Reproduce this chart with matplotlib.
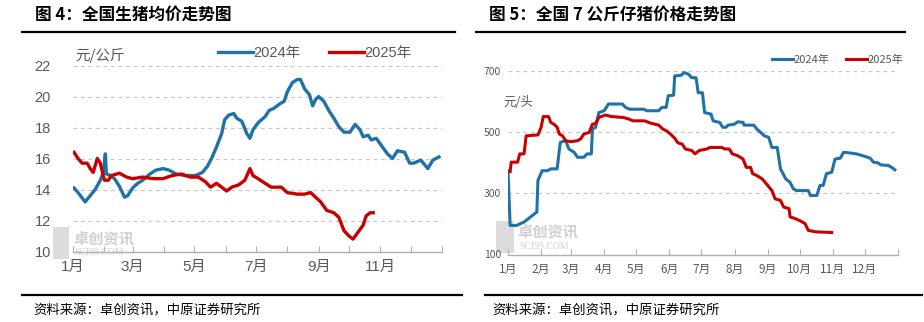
import matplotlib
matplotlib.use("Agg")
import matplotlib.pyplot as plt
from matplotlib.lines import Line2D
import matplotlib.patches as mpatches

plt.rcParams['font.family'] = ['Liberation Sans', 'Noto Sans CJK SC', 'DejaVu Sans']

# ---- data: day of year -> price ----
# left chart: 全国生猪均价 (元/公斤)
hog_days_2024 = [1, 5, 12, 17, 22, 27, 30, 32, 33, 37, 41, 46, 51, 54, 59, 64, 69, 76, 82, 89,
                 95, 102, 111, 121, 128, 133, 137, 142, 147, 150, 154, 159, 162, 167, 172, 175,
                 178, 183, 190, 194, 199, 204, 209, 212, 217, 222, 225, 229, 234, 237, 240, 243,
                 248, 253, 258, 263, 268, 274, 279, 284, 287, 292, 295, 300, 306, 311, 316, 321,
                 328, 333, 337, 344, 351, 356, 362]
hog_2024 = [14.1, 13.8, 13.2, 13.6, 14.0, 14.6, 15.1, 16.3, 15.0, 14.9, 14.7, 14.2, 13.5, 13.6,
            14.1, 14.4, 14.6, 15.0, 15.25, 15.35, 15.25, 15.0, 14.9, 14.9, 15.1, 15.5, 16.0,
            16.75, 17.6, 18.5, 18.8, 18.9, 18.6, 18.4, 17.6, 17.3, 17.85, 18.3, 18.7, 19.1,
            19.25, 19.5, 19.7, 20.3, 20.9, 21.1, 21.1, 20.5, 20.1, 19.4, 19.8, 20.0, 19.7,
            19.1, 18.6, 18.05, 17.7, 17.7, 18.2, 17.85, 17.4, 17.5, 17.2, 17.3, 16.75, 16.3,
            16.0, 16.5, 16.4, 15.7, 15.7, 15.9, 15.35, 15.9, 16.1]
hog_days_2025 = [1, 5, 9, 14, 17, 20, 24, 27, 31, 35, 38, 46, 53, 59, 69, 79, 89, 98, 107, 116,
                 124, 131, 136, 142, 147, 152, 157, 164, 170, 175, 178, 183, 190, 196, 206, 212,
                 222, 229, 235, 240, 245, 251, 258, 263, 268, 273, 277, 282, 287, 290, 294, 297]
hog_2025 = [16.4, 16.0, 15.7, 15.7, 15.35, 15.1, 16.0, 15.7, 14.6, 14.6, 14.9, 15.05, 14.8,
            14.7, 14.8, 14.7, 14.7, 14.9, 15.0, 14.8, 14.8, 14.5, 14.15, 14.4, 14.15, 13.9,
            14.15, 14.3, 14.6, 15.35, 14.9, 14.7, 14.4, 14.15, 14.15, 13.8, 13.7, 13.7, 13.8,
            13.5, 13.2, 12.65, 12.5, 12.2, 11.35, 11.0, 10.8, 11.25, 11.7, 12.3, 12.5, 12.5]

# right chart: 全国7公斤仔猪价格 (元/头)
pig_days_2024 = [0, 2, 8, 11, 15, 19, 23, 27, 28, 32, 37, 40, 46, 48, 49, 54, 57, 62, 65, 71,
                 74, 78, 79, 82, 85, 90, 94, 107, 110, 114, 127, 130, 141, 144, 148, 150, 155,
                 156, 162, 165, 169, 172, 176, 178, 182, 184, 190, 192, 198, 201, 204, 206, 212,
                 215, 220, 221, 230, 233, 240, 244, 247, 252, 255, 260, 264, 267, 270, 281, 283,
                 289, 292, 295, 298, 303, 306, 311, 314, 320, 326, 332, 339, 342, 346, 349, 356,
                 359, 362]
pig_2024 = [374, 195, 195, 200, 206, 217, 228, 239, 342, 374, 374, 380, 380, 440, 467, 472,
            445, 434, 418, 418, 429, 429, 510, 516, 564, 570, 592, 592, 581, 575, 575, 570,
            570, 581, 581, 619, 621, 684, 686, 695, 689, 678, 678, 629, 629, 564, 559, 537,
            532, 516, 516, 523, 526, 534, 532, 523, 523, 510, 488, 483, 450, 450, 380, 347,
            336, 315, 309, 309, 293, 293, 326, 326, 364, 369, 412, 415, 434, 432, 429, 423,
            415, 402, 400, 393, 391, 385, 377]
pig_days_2025 = [2, 3, 9, 11, 15, 17, 28, 31, 33, 38, 40, 43, 46, 48, 51, 54, 59, 65, 68, 71,
                 76, 79, 82, 85, 91, 97, 108, 113, 117, 128, 133, 141, 145, 148, 152, 156, 159,
                 163, 166, 172, 175, 179, 186, 189, 200, 203, 207, 210, 215, 220, 223, 227, 229,
                 233, 238, 243, 247, 250, 255, 258, 263, 264, 269, 274, 278, 281, 288, 303]
pig_2025 = [371, 402, 402, 429, 429, 488, 491, 516, 551, 551, 532, 526, 516, 494, 488, 472,
            469, 472, 478, 494, 499, 526, 528, 548, 556, 551, 548, 543, 537, 537, 530, 523,
            510, 505, 494, 480, 465, 461, 445, 440, 429, 440, 445, 450, 450, 445, 445, 429,
            423, 412, 385, 385, 364, 358, 347, 326, 309, 282, 277, 255, 250, 223, 217, 209,
            201, 179, 174, 172]

month_starts = [0, 31, 59, 90, 120, 151, 181, 212, 243, 273, 304, 334, 365]
month_names = ['%d月' % m for m in range(1, 13)]

BLUE = '#1F72A8'
RED = '#C80000'
GRAY = '#595959'
W, H = 924, 322

fig = plt.figure(figsize=(9.24, 3.22), dpi=100)


def px_box(x0, x1, ytop, ybot):
    return [x0 / W, 1 - ybot / H, (x1 - x0) / W, (ybot - ytop) / H]


def style_axes(ax, ymin, ymax, yticks, tick_fs, ypad):
    ax.set_xlim(0, 365)
    ax.set_ylim(ymin, ymax)
    for s in ['top', 'right', 'left']:
        ax.spines[s].set_visible(False)
    ax.spines['bottom'].set_color('#b0b0b0')
    ax.spines['bottom'].set_linewidth(1.0)
    ax.set_yticks(yticks)
    for y in yticks[1:]:
        ax.axhline(y, color='#c8c8c8', lw=0.9, ls=(0, (3, 3)), zorder=0)
    ax.tick_params(axis='y', length=0, pad=ypad, labelsize=tick_fs, labelcolor=GRAY)
    ax.tick_params(axis='x', direction='in', length=4, color='#b0b0b0', labelsize=tick_fs + 0.5,
                   labelcolor=GRAY, pad=6)
    ax.set_xticks(month_starts)
    ax.set_facecolor('none')


def watermark(ax, x, y):
    ax.add_patch(mpatches.Rectangle((x, y - 0.07), 0.045, 0.17, transform=ax.transAxes,
                                    color='#dcdcdc', lw=0, zorder=0, clip_on=False))
    ax.text(x + 0.055, y, '卓创资讯', transform=ax.transAxes, fontsize=11, color='#d0d0d0',
            family=['Noto Sans CJK SC'], fontweight='bold', va='bottom', ha='left', zorder=0)
    ax.text(x + 0.058, y - 0.01, 'SCI99.COM', transform=ax.transAxes, fontsize=7, color='#d0d0d0',
            family=['Liberation Serif'], va='top', ha='left', zorder=0)


# ---- left chart ----
ax1 = fig.add_axes(px_box(73, 442, 65.5, 251.5))
style_axes(ax1, 10, 22, [10, 12, 14, 16, 18, 20, 22], 10.5, 16)
ax1.set_xticklabels([n if i % 2 == 0 and i < 12 else '' for i, n in enumerate(month_names + [''])])
ax1.plot(hog_days_2024, hog_2024, color=BLUE, lw=2.4, label='2024年', solid_joinstyle='round')
ax1.plot(hog_days_2025, hog_2025, color=RED, lw=2.4, label='2025年', solid_joinstyle='round')
ax1.legend(loc='center left', bbox_to_anchor=(218 / W, 1 - 53 / H), bbox_transform=fig.transFigure,
           ncol=2, frameon=False, fontsize=10.5, handlelength=2.4, handletextpad=0.05,
           columnspacing=1.9, borderpad=0, borderaxespad=0, labelcolor=GRAY)
watermark(ax1, -0.055, 0.03)
fig.text(75 / W, 1 - 55 / H, '元/公斤', fontsize=10.5, color=GRAY, va='center', ha='left',
         family=['Noto Sans CJK SC'])

# ---- right chart ----
ax2 = fig.add_axes(px_box(508, 898, 71, 254.5))
style_axes(ax2, 100, 700, [100, 300, 500, 700], 7.5, 5)
ax2.set_xticklabels(month_names + [''])
for lab in ax2.get_xticklabels() + ax2.get_yticklabels():
    lab.set_family(['Liberation Sans Narrow', 'Noto Sans CJK SC'])
ax2.tick_params(axis='x', labelsize=8.5)
ax2.plot(pig_days_2024, pig_2024, color=BLUE, lw=2.2, label='2024年')
ax2.plot(pig_days_2025, pig_2025, color=RED, lw=2.2, label='2025年')
ax2.legend(loc='center left', bbox_to_anchor=(772 / W, 1 - 60 / H), bbox_transform=fig.transFigure,
           ncol=2, frameon=False, prop={'family': ['Liberation Sans Narrow', 'Noto Sans CJK SC'], 'size': 8},
           handlelength=1.9, handletextpad=0.05, columnspacing=1.5, borderpad=0, borderaxespad=0,
           labelcolor=GRAY)
watermark(ax2, -0.03, 0.08)
fig.text(503 / W, 1 - 103 / H, '元/头', fontsize=9, color=GRAY, va='center', ha='left',
         family=['Noto Sans CJK SC'])

# ---- titles, rules, sources ----
fig.text(35 / W, 1 - 15 / H, '图 4：全国生猪均价走势图', fontsize=12, fontweight='bold',
         va='center', ha='left', family=['Noto Sans CJK SC'])
fig.text(489 / W, 1 - 15 / H, '图 5：全国 7 公斤仔猪价格走势图', fontsize=12, fontweight='bold',
         va='center', ha='left', family=['Noto Sans CJK SC'])
for x0, x1 in [(22, 455), (476, 905)]:
    fig.add_artist(Line2D([x0 / W, x1 / W], [1 - 31.5 / H] * 2, color='black', lw=1.6))
for x0, x1 in [(22, 462), (485, 922)]:
    fig.add_artist(Line2D([x0 / W, x1 / W], [1 - 295 / H] * 2, color='black', lw=1.6))
fig.text(33 / W, 1 - 310 / H, '资料来源：卓创资讯，中原证券研究所', fontsize=9.6, va='center', ha='left',
         family=['Noto Sans CJK SC'])
fig.text(492 / W, 1 - 310 / H, '资料来源：卓创资讯，中原证券研究所', fontsize=9.6, va='center', ha='left',
         family=['Noto Sans CJK SC'])

fig.savefig('out.png', dpi=100)
